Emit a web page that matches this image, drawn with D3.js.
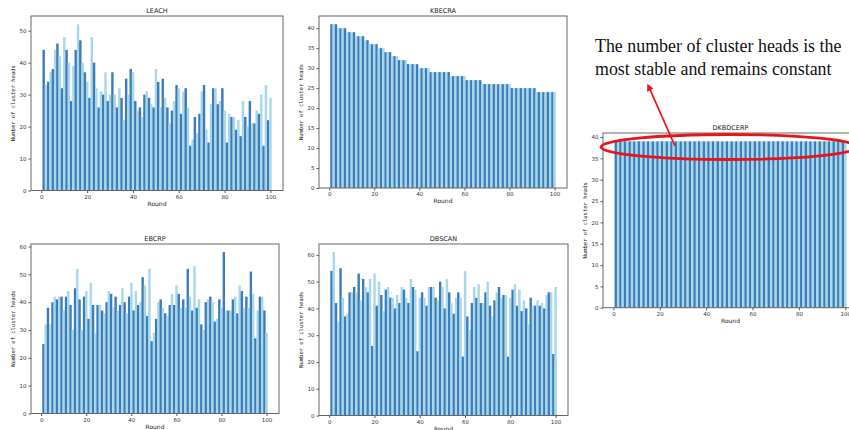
<!DOCTYPE html>
<html>
<head>
<meta charset="UTF-8" />
<title>Number of cluster heads per round</title>
<script src="https://cdn.jsdelivr.net/npm/d3@7"></script>
<style>
  body { margin: 0; background: #fff; }
  svg { display: block; }
</style>
</head>
<body>
<svg id="chart"></svg>
<script>
// rounds 1..100, one bar each
var rounds = d3.range(1, 101);
var xTicks = [0, 20, 40, 60, 80, 100];

var leach = [44,33,34,37,38,44,46,42,32,48, 44,40,28,39,44,52,47,40,37,34,
  29,48,40,32,26,31,30,37,28,30, 37,30,26,32,29,22,35,30,38,37,
  28,25,26,23,30,31,29,27,26,38, 34,26,35,29,26,21,25,28,33,32,
  24,31,32,26,14,16,23,18,24,31, 33,19,15,27,32,32,27,28,32,25,
  15,24,23,23,19,22,17,28,23,20, 28,21,21,25,24,30,14,33,22,29];

var kbecra = [41,41,41,40,40,40,40,39,39,39, 39,38,38,38,38,37,37,36,36,36,
  36,35,35,35,34,34,34,33,33,33, 32,32,32,32,31,31,31,31,31,30,
  30,30,30,30,29,29,29,29,29,29, 29,29,29,28,28,28,28,28,28,28,
  27,27,27,27,27,27,27,26,26,26, 26,26,26,26,26,26,26,26,26,26,
  25,25,25,25,25,25,25,25,25,25, 25,24,24,24,24,24,24,24,24,24];

var ebcrp = [25,32,38,32,40,42,41,42,42,37, 42,44,39,30,45,52,41,30,42,44,
  34,47,39,29,39,39,37,36,40,44, 43,38,42,37,39,45,40,36,42,47,
  37,44,39,40,49,46,35,52,26,29, 34,40,41,38,36,35,39,43,39,46,
  43,38,41,38,52,42,37,53,38,41, 32,30,40,41,42,40,33,34,41,38,
  58,37,37,37,41,42,36,46,44,38, 42,38,51,43,27,37,42,42,37,29];

var dbscan = [54,61,42,35,55,44,37,38,46,46, 48,46,53,43,51,48,46,51,26,53,
  41,50,45,39,47,48,44,44,40,45, 42,48,47,44,42,51,48,47,24,44,
  46,44,41,48,48,48,44,43,50,48, 40,51,46,42,38,44,46,44,22,54,
  37,32,42,48,44,49,42,42,46,50, 41,37,43,46,48,44,45,45,22,44,
  47,49,41,47,39,43,40,34,44,41, 41,43,41,42,40,45,46,46,23,48];

var dkbdcerp = rounds.map(function(){ return 39; });

var note = ["The number of cluster heads is the", "most stable and remains constant"];

var W = 849, H = 430;
var darkBlue = "#3b7db8", lightBlue = "#a9d7ea";

var svg = d3.select("#chart").attr("width", W).attr("height", H);

function drawPanel(p) {
  var x = d3.scaleLinear().domain([-4.5, 105.5]).range([p.left, p.right]);
  var yMax = d3.max(p.values) * 1.05;
  var y = d3.scaleLinear().domain([0, yMax]).range([p.bottom, p.top]);
  var g = svg.append("g");

  g.selectAll("rect.bar")
    .data(p.values)
    .enter().append("rect")
    .attr("class", "bar")
    .attr("x", function(d, i){ return x(rounds[i] - 0.5); })
    .attr("width", function(){ return x(1) - x(0) + 0.15; })
    .attr("y", function(d){ return y(d); })
    .attr("height", function(d){ return y(0) - y(d); })
    .attr("fill", function(d, i){ return rounds[i] % 2 ? darkBlue : lightBlue; });

  var xAxis = d3.axisBottom(x).tickValues(xTicks).tickSize(2.5).tickPadding(2);
  var yAxis = d3.axisLeft(y).tickValues(d3.range(0, yMax, p.step)).tickSize(2.5).tickPadding(2);

  var gx = g.append("g").attr("transform", "translate(0," + p.bottom + ")").call(xAxis);
  var gy = g.append("g").attr("transform", "translate(" + p.left + ",0)").call(yAxis);
  [gx, gy].forEach(function(a){
    a.select(".domain").remove();
    a.selectAll("line").attr("stroke", "#555");
    a.selectAll("text").attr("fill", "#333").style("font-size", "5.5px")
      .style("font-family", "DejaVu Sans, sans-serif");
  });

  g.append("rect")
    .attr("x", p.left).attr("y", p.top)
    .attr("width", p.right - p.left).attr("height", p.bottom - p.top)
    .attr("fill", "none").attr("stroke", "#666").attr("stroke-width", 1);

  g.append("text")
    .attr("x", (p.left + p.right) / 2).attr("y", p.top - 3)
    .attr("text-anchor", "middle")
    .style("font-family", "DejaVu Sans, sans-serif").style("font-size", "6.5px")
    .attr("fill", "#222").text(p.title);

  g.append("text")
    .attr("x", (p.left + p.right) / 2).attr("y", p.bottom + 15)
    .attr("text-anchor", "middle")
    .style("font-family", "DejaVu Sans, sans-serif").style("font-size", "6px")
    .attr("fill", "#222").text("Round");

  g.append("text")
    .attr("transform", "translate(" + (p.left - 16) + "," + ((p.top + p.bottom) / 2) + ") rotate(-90)")
    .attr("text-anchor", "middle")
    .style("font-family", "DejaVu Sans Mono, monospace").style("font-size", "5.5px")
    .attr("fill", "#222").text("Number of cluster heads");
}

drawPanel({title: "LEACH", values: leach, step: 10, left: 31, right: 283, top: 16, bottom: 190.5});
drawPanel({title: "KBECRA", values: kbecra, step: 5, left: 319, right: 567, top: 16, bottom: 188});
drawPanel({title: "EBCRP", values: ebcrp, step: 10, left: 31, right: 279, top: 244, bottom: 413.5});
drawPanel({title: "DBSCAN", values: dbscan, step: 10, left: 319, right: 568, top: 244, bottom: 415.5});
// the right panel runs past the page edge, as in the original screenshot
drawPanel({title: "DKBDCERP", values: dkbdcerp, step: 5, left: 603, right: 858, top: 133, bottom: 307.7});

// annotation
svg.append("defs").append("marker")
  .attr("id", "head").attr("viewBox", "0 0 10 10")
  .attr("refX", 8).attr("refY", 5)
  .attr("markerWidth", 4).attr("markerHeight", 4)
  .attr("orient", "auto")
  .append("path").attr("d", "M0,0 L10,5 L0,10 z").attr("fill", "#e8141a");

svg.append("ellipse")
  .attr("cx", 729).attr("cy", 147).attr("rx", 128).attr("ry", 12.5)
  .attr("fill", "none").attr("stroke", "#e8141a").attr("stroke-width", 2.8);

svg.append("line")
  .attr("x1", 675).attr("y1", 146).attr("x2", 648).attr("y2", 85)
  .attr("stroke", "#e8141a").attr("stroke-width", 1.8)
  .attr("marker-end", "url(#head)");

svg.selectAll("text.note")
  .data(note)
  .enter().append("text")
  .attr("class", "note")
  .attr("x", 595).attr("y", function(d, i){ return 52 + i * 23; })
  .style("font-family", "Liberation Serif, Times New Roman, serif")
  .style("font-size", "17.9px")
  .attr("fill", "#111")
  .text(function(d){ return d; });
</script>
</body>
</html>
